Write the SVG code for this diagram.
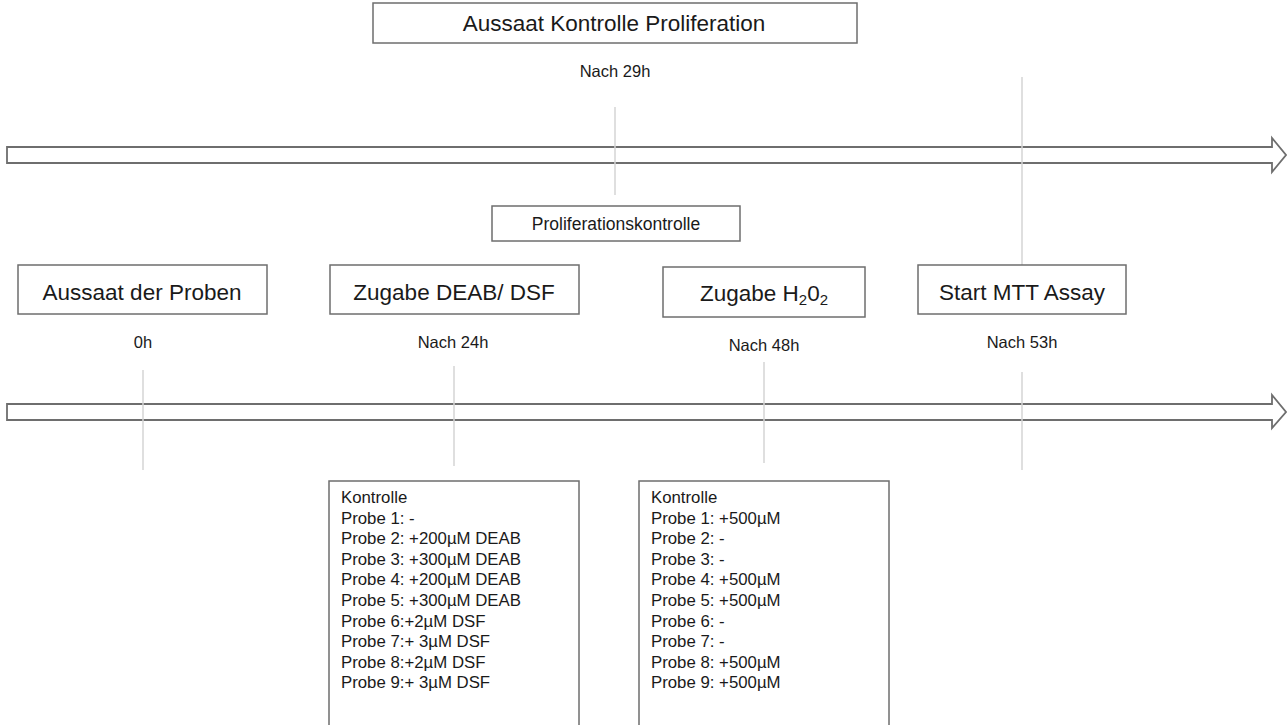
<svg xmlns="http://www.w3.org/2000/svg" width="1287" height="725" viewBox="0 0 1287 725">
<style>
.box{fill:#fff;stroke:#6e6e6e;stroke-width:1.5}
.arrow{fill:#fff;stroke:#6e6e6e;stroke-width:1.8}
.vl{stroke:#d4d4d4;stroke-width:1.5;fill:none}
.t{font-family:"Liberation Sans",Arial,sans-serif;fill:#1a1a1a}
.title{font-size:22.5px;text-anchor:middle}
.lbl{font-size:16.5px;text-anchor:middle}
.small{font-size:17.5px;text-anchor:middle}
.list{font-size:16.8px}
</style>
<rect width="1287" height="725" fill="#fff"/>
<g id="connectors">
<path class="arrow" d="M7,147 H1272 V138 L1286,155 L1272,172 V163 H7 Z"/>
<path class="arrow" d="M7,404 H1272 V395 L1286,412 L1272,428 V420 H7 Z"/>
<line class="vl" x1="615" y1="107" x2="615" y2="195"/>
<line class="vl" x1="1022" y1="77" x2="1022" y2="265"/>
<line class="vl" x1="143" y1="370" x2="143" y2="470"/>
<line class="vl" x1="454" y1="366" x2="454" y2="466"/>
<line class="vl" x1="764" y1="362" x2="764" y2="463"/>
<line class="vl" x1="1022" y1="372" x2="1022" y2="470"/>
</g>
<g id="aussaat-kontrolle">
<rect class="box" x="373" y="3" width="484" height="40"/>
<text class="t title" x="614" y="31">Aussaat Kontrolle Proliferation</text>
<text class="t lbl" x="615" y="77">Nach 29h</text>
</g>
<g id="proliferationskontrolle">
<rect class="box" x="492" y="206" width="248" height="35"/>
<text class="t small" x="616" y="230">Proliferationskontrolle</text>
</g>
<g id="aussaat-proben">
<rect class="box" x="18" y="265" width="249" height="49"/>
<text class="t title" x="142" y="300">Aussaat der Proben</text>
<text class="t lbl" x="143" y="348">0h</text>
</g>
<g id="zugabe-deab">
<rect class="box" x="330" y="265" width="249" height="49"/>
<text class="t title" x="454" y="300">Zugabe DEAB/ DSF</text>
<text class="t lbl" x="453" y="348">Nach 24h</text>
</g>
<g id="zugabe-h2o2">
<rect class="box" x="663" y="267" width="202" height="50"/>
<text class="t title" x="764" y="301">Zugabe H<tspan font-size="15" dy="4">2</tspan><tspan dy="-4">0</tspan><tspan font-size="15" dy="4">2</tspan></text>
<text class="t lbl" x="764" y="351">Nach 48h</text>
</g>
<g id="start-mtt">
<rect class="box" x="918" y="265" width="208" height="49"/>
<text class="t title" x="1022" y="300">Start MTT Assay</text>
<text class="t lbl" x="1022" y="348">Nach 53h</text>
</g>
<g id="liste-deab">
<rect class="box" x="329" y="481" width="250" height="260"/>
<text class="t list" x="341" y="503">Kontrolle</text>
<text class="t list" x="341" y="523.6">Probe 1: -</text>
<text class="t list" x="341" y="544.2">Probe 2: +200µM DEAB</text>
<text class="t list" x="341" y="564.8">Probe 3: +300µM DEAB</text>
<text class="t list" x="341" y="585.4">Probe 4: +200µM DEAB</text>
<text class="t list" x="341" y="606">Probe 5: +300µM DEAB</text>
<text class="t list" x="341" y="626.6">Probe 6:+2µM DSF</text>
<text class="t list" x="341" y="647.2">Probe 7:+ 3µM DSF</text>
<text class="t list" x="341" y="667.8">Probe 8:+2µM DSF</text>
<text class="t list" x="341" y="688.4">Probe 9:+ 3µM DSF</text>
</g>
<g id="liste-h2o2">
<rect class="box" x="639" y="481" width="250" height="260"/>
<text class="t list" x="651" y="503">Kontrolle</text>
<text class="t list" x="651" y="523.6">Probe 1: +500µM</text>
<text class="t list" x="651" y="544.2">Probe 2: -</text>
<text class="t list" x="651" y="564.8">Probe 3: -</text>
<text class="t list" x="651" y="585.4">Probe 4: +500µM</text>
<text class="t list" x="651" y="606">Probe 5: +500µM</text>
<text class="t list" x="651" y="626.6">Probe 6: -</text>
<text class="t list" x="651" y="647.2">Probe 7: -</text>
<text class="t list" x="651" y="667.8">Probe 8: +500µM</text>
<text class="t list" x="651" y="688.4">Probe 9: +500µM</text>
</g>
</svg>
